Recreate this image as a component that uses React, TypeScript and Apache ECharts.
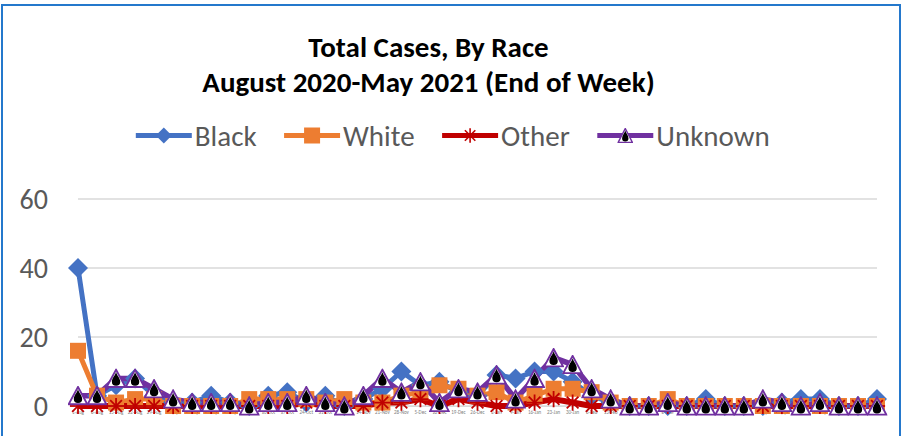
import React, { useEffect, useRef } from "react";
import * as echarts from "echarts";

const categories = [
  "1-Aug", "8-Aug", "15-Aug", "22-Aug", "29-Aug", "5-Sep", "12-Sep", "19-Sep", "26-Sep",
  "3-Oct", "10-Oct", "17-Oct", "24-Oct", "31-Oct", "7-Nov", "14-Nov", "21-Nov", "28-Nov",
  "5-Dec", "12-Dec", "19-Dec", "26-Dec", "2-Jan", "9-Jan", "16-Jan", "23-Jan", "30-Jan",
  "6-Feb", "13-Feb", "20-Feb", "27-Feb", "6-Mar", "13-Mar", "20-Mar", "27-Mar", "3-Apr",
  "10-Apr", "17-Apr", "24-Apr", "1-May", "8-May", "15-May", "22-May",
];

const blackCases = [40, 3, 6, 8, 3, 1, 1, 3, 1, 0, 3, 4, 1, 3, 0, 2, 5, 10, 6, 7, 4, 3, 9, 8, 10, 10, 7, 3, 1, 0, 0, 0, 0, 2, 0, 0, 0, 1, 2, 2, 0, 0, 2];
const whiteCases = [16, 3, 1, 2, 2, 0, 0, 0, 0, 2, 2, 2, 2, 1, 2, 1, 1, 3, 4, 6, 5, 3, 4, 1, 3, 5, 5, 4, 1, 0, 0, 2, 0, 0, 0, 0, 0, 0, 0, 0, 0, 0, 0];
const otherCases = [0, 0, 0, 0, 0, 0, 0, 0, 0, 0, 0, 0, 1, 0, 0, 0, 1, 1, 2, 0, 2, 1, 0, 0, 1, 2, 1, 0, 0, 0, 0, 0, 0, 0, 0, 0, 0, 0, 0, 0, 0, 0, 0];
const unknownCases = [3, 3, 8, 8, 5, 2, 1, 1, 1, 0, 1, 1, 3, 1, 0, 3, 8, 4, 7, 1, 5, 4, 9, 2, 8, 14, 12, 5, 2, 0, 0, 1, 0, 0, 0, 0, 2, 1, 0, 1, 0, 0, 0];

const yTicks = [0, 20, 40, 60];
const titleLines = ["Total Cases, By Race", "August 2020-May 2021 (End of Week)"];

const svgUri = (s: string) => "image://data:image/svg+xml;charset=utf-8," + encodeURIComponent(s);

const triSymbol = svgUri(
  "<svg xmlns='http://www.w3.org/2000/svg' width='40' height='40' viewBox='0 0 20 20'>" +
    "<polygon points='10,1.3 18.9,18.6 1.1,18.6' fill='white' stroke='#7030A0' stroke-width='1.8' stroke-linejoin='miter'/>" +
    "<path d='M10,3.6 C10.8,7 14,9.8 14,13.4 A4,4 0 0 1 6,13.4 C6,9.8 9.2,7 10,3.6 Z' fill='black'/>" +
    "</svg>"
);

const starSymbol = svgUri(
  "<svg xmlns='http://www.w3.org/2000/svg' width='40' height='40' viewBox='0 0 20 20'>" +
    "<g stroke='#C00000' stroke-width='2'>" +
    "<line x1='10' y1='1' x2='10' y2='19'/>" +
    "<line x1='3.5' y1='3.5' x2='16.5' y2='16.5'/>" +
    "<line x1='16.5' y1='3.5' x2='3.5' y2='16.5'/>" +
    "<line x1='1' y1='10' x2='19' y2='10'/>" +
    "</g></svg>"
);

const FONT = "Carlito, 'Liberation Sans', Arial, sans-serif";

export default function App() {
  const ref = useRef<HTMLDivElement>(null);

  useEffect(() => {
    if (!ref.current) return;
    const chart = echarts.init(ref.current, null, { renderer: "svg" });
    chart.setOption({
      animation: false,
      backgroundColor: "#ffffff",
      textStyle: { fontFamily: FONT },
      legend: {
        top: 116,
        left: "center",
        itemWidth: 56,
        itemHeight: 20,
        itemGap: 25,
        lineStyle: { width: 5 },
        textStyle: { fontFamily: FONT, fontSize: 29, color: "#595959", padding: [0, 0, 0, -2] },
        data: ["Black", "White", "Other", "Unknown"],
      },
      graphic: [
        {
          type: "rect",
          shape: { x: 2, y: 5, width: 898, height: 445 },
          style: { fill: "none", stroke: "#2478CC", lineWidth: 2 },
          silent: true,
          z: 100,
        },
        ...titleLines.map((t, i) => ({
          type: "text",
          x: 428.5,
          y: 47 + i * 35,
          silent: true,
          style: {
            text: t,
            fill: "#000000",
            font: `bold 29px ${FONT}`,
            textAlign: "center",
            textVerticalAlign: "middle",
          },
        })),
      ],
      grid: { left: 78, right: 26, top: 199, bottom: 30, containLabel: false },
      xAxis: {
        type: "category",
        data: categories,
        boundaryGap: false,
        axisLine: { show: true, lineStyle: { color: "#D9D9D9", width: 1 } },
        axisTick: { show: false },
        axisLabel: { interval: 0, fontSize: 5, color: "#7F7F7F", margin: 3 },
        splitLine: { show: false },
      },
      yAxis: {
        type: "value",
        min: yTicks[0],
        max: yTicks[yTicks.length - 1],
        interval: 20,
        axisLine: { show: false },
        axisTick: { show: false },
        axisLabel: { fontSize: 28, color: "#595959", margin: 30, fontFamily: FONT },
        splitLine: { lineStyle: { color: "#D9D9D9", width: 1.5 } },
      },
      series: [
        {
          name: "Black",
          type: "line",
          data: blackCases,
          color: "#4472C4",
          lineStyle: { width: 5, color: "#4472C4" },
          symbol: "diamond",
          symbolSize: 20,
          itemStyle: { color: "#4472C4" },
        },
        {
          name: "White",
          type: "line",
          data: whiteCases,
          color: "#ED7D31",
          lineStyle: { width: 5, color: "#ED7D31" },
          symbol: "rect",
          symbolSize: 16,
          itemStyle: { color: "#ED7D31" },
        },
        {
          name: "Other",
          type: "line",
          data: otherCases,
          color: "#C00000",
          lineStyle: { width: 6, color: "#C00000" },
          symbol: starSymbol,
          symbolSize: 18,
          itemStyle: { color: "#C00000" },
        },
        {
          name: "Unknown",
          type: "line",
          data: unknownCases,
          color: "#7030A0",
          lineStyle: { width: 5.5, color: "#7030A0" },
          symbol: triSymbol,
          symbolSize: [21, 20],
          itemStyle: { color: "#7030A0" },
        },
      ],
    });
    return () => chart.dispose();
  }, []);

  return (
    <div
      ref={ref}
      style={{ position: "absolute", left: 0, top: 0, width: 903, height: 436 }}
    />
  );
}
